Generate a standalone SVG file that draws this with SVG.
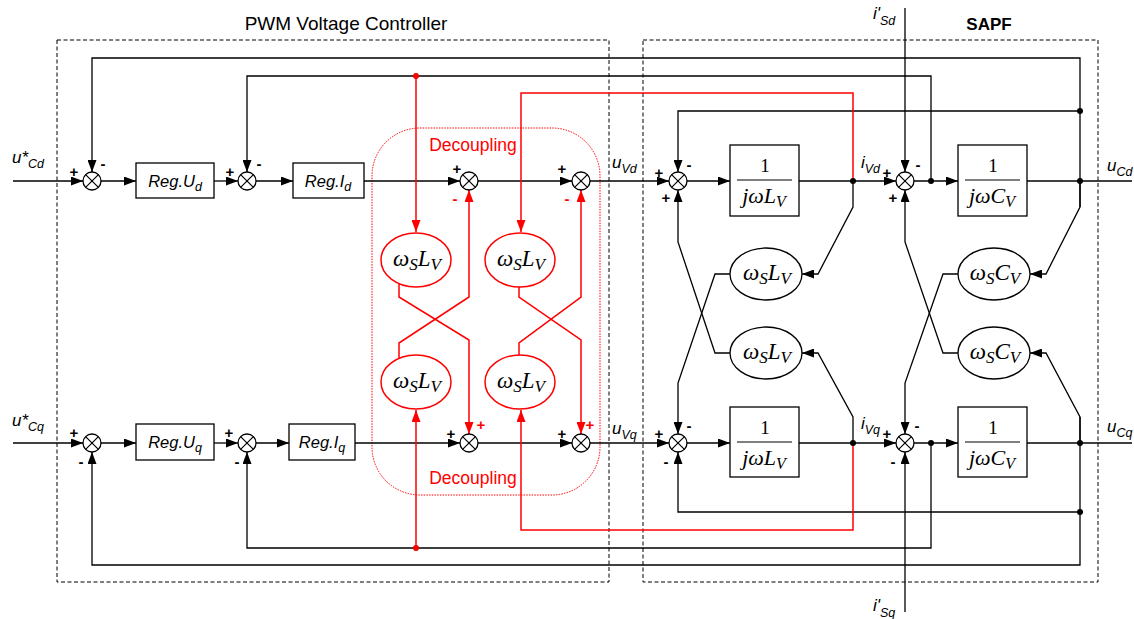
<svg xmlns="http://www.w3.org/2000/svg" xmlns:xlink="http://www.w3.org/1999/xlink" width="1134" height="619" viewBox="0 0 1134 619">
<style>
.ln{fill:none;stroke:#000;stroke-width:1.3}
.rl{fill:none;stroke:#f00;stroke-width:1.5}
.arr{marker-end:url(#ah)}
.rarr{marker-end:url(#rah)}
.box{fill:none;stroke:#000;stroke-width:1;stroke-dasharray:4,2.5}
.dec{fill:none;stroke:#f00;stroke-width:1;stroke-dasharray:1.5,1.2}
.blk{fill:#fff;stroke:#000;stroke-width:1.3}
.sumc{fill:#fff;stroke:#000;stroke-width:1.3}
.ell{fill:#fff;stroke:#000;stroke-width:1.3}
.rell{fill:#fff;stroke:#f00;stroke-width:1.5}
.t{font-family:"Liberation Sans",Arial,sans-serif;fill:#000}
.it{font-family:"Liberation Sans",Arial,sans-serif;font-style:italic;fill:#000}
.m{font-family:"Liberation Serif","Times New Roman",serif;font-style:italic;fill:#000;font-size:22px}
.e{font-family:"Liberation Serif","Times New Roman",serif;font-style:italic;fill:#000;font-size:23px}
.mr{font-family:"Liberation Serif","Times New Roman",serif;fill:#000;font-size:19px}
.sg{font-family:"Liberation Sans",Arial,sans-serif;font-size:15px;font-weight:bold;text-anchor:middle;fill:#000}
.rsg{font-family:"Liberation Sans",Arial,sans-serif;font-size:15px;font-weight:bold;text-anchor:middle;fill:#f00}
.mid{text-anchor:middle}
</style>
<defs>
<marker id="ah" markerUnits="userSpaceOnUse" markerWidth="12" markerHeight="9" refX="12" refY="4.5" orient="auto"><path d="M0,0L12,4.5L0,9z" fill="#000"/></marker>
<marker id="rah" markerUnits="userSpaceOnUse" markerWidth="12" markerHeight="9" refX="12" refY="4.5" orient="auto"><path d="M0,0L12,4.5L0,9z" fill="#f00"/></marker>
<g id="sum"><circle class="sumc" r="9"/><path d="M-6.4-6.4L6.4 6.4M6.4-6.4L-6.4 6.4" stroke="#000" stroke-width="1.2"/></g>
</defs>
<rect width="1134" height="619" fill="#fff"/>

<!-- frames -->
<g id="frames">
<rect class="box" x="57" y="40" width="552" height="542"/>
<rect class="box" x="643" y="40" width="455" height="542"/>
<rect class="dec" x="372" y="128" width="228" height="367" rx="48" ry="48"/>
<text class="t mid" x="346" y="30" font-size="19">PWM Voltage Controller</text>
<text class="t mid" x="989" y="30" font-size="17" font-weight="bold">SAPF</text>
<text class="t mid" x="473" y="151" font-size="17.5" style="fill:#f00">Decoupling</text>
<text class="t mid" x="473" y="484" font-size="17.5" style="fill:#f00">Decoupling</text>
</g>

<!-- connectors -->
<g id="connectors">
<path class="ln arr" d="M13,181H83"/>
<path class="ln arr" d="M101,181H136"/>
<path class="ln arr" d="M214,181H238"/>
<path class="ln arr" d="M256,181H293"/>
<path class="ln arr" d="M364,181H460"/>
<path class="ln arr" d="M478,181H572"/>
<path class="ln arr" d="M590,181H669"/>
<path class="ln arr" d="M687,181H730"/>
<path class="ln arr" d="M799,181H896"/>
<path class="ln arr" d="M914,181H958"/>
<path class="ln" d="M1027,181H1132"/>
<path class="ln arr" d="M1080,207V58H92V172"/>
<path class="ln arr" d="M931,181V76H247V172"/>
<path class="ln arr" d="M1080,111H678V172"/>
<path class="ln arr" d="M905,8V172"/>
<path class="ln arr" d="M853,181V207L818,274H802"/>
<path class="ln arr" d="M1080,181V207L1046,274H1030"/>
<path class="ln arr" d="M730,274H715L678,383V434"/>
<path class="ln arr" d="M730,353H715L678,242V190"/>
<path class="ln arr" d="M958,274H943L905,383V434"/>
<path class="ln arr" d="M958,353H943L905,242V190"/>
<path class="ln arr" d="M853,443V417L818,353H802"/>
<path class="ln arr" d="M1080,443V417L1046,353H1030"/>

<path class="ln arr" d="M13,443H83"/>
<path class="ln arr" d="M101,443H136"/>
<path class="ln arr" d="M214,443H238"/>
<path class="ln arr" d="M256,443H289"/>
<path class="ln arr" d="M355,443H460"/>
<path class="ln arr" d="M478,443H572"/>
<path class="ln arr" d="M590,443H669"/>
<path class="ln arr" d="M687,443H730"/>
<path class="ln arr" d="M799,443H896"/>
<path class="ln arr" d="M914,443H958"/>
<path class="ln" d="M1027,443H1132"/>
<path class="ln arr" d="M1080,417V565H92V452"/>
<path class="ln arr" d="M931,443V548H247V452"/>
<path class="ln arr" d="M1080,512H678V452"/>
<path class="ln arr" d="M905,612V452"/>

<path class="rl rarr" d="M853,181V93H521V232"/>
<path class="rl rarr" d="M416,76V232"/>
<path class="rl rarr" d="M853,443V530H521V410"/>
<path class="rl rarr" d="M416,548V410"/>
<path class="rl rarr" d="M399,284V297L469,340V434"/>
<path class="rl rarr" d="M399,358V343L469,297V190"/>
<path class="rl rarr" d="M519,287V297L581,340V434"/>
<path class="rl rarr" d="M519,355V343L581,297V190"/>

<circle cx="853" cy="181" r="3" fill="#000"/>
<circle cx="931" cy="181" r="3" fill="#000"/>
<circle cx="1080" cy="111" r="3" fill="#000"/>
<circle cx="1080" cy="181" r="3" fill="#000"/>
<circle cx="853" cy="443" r="3" fill="#000"/>
<circle cx="931" cy="443" r="3" fill="#000"/>
<circle cx="1080" cy="443" r="3" fill="#000"/>
<circle cx="1080" cy="512" r="3" fill="#000"/>
<circle cx="416" cy="76" r="3" fill="#f00"/>
<circle cx="416" cy="548" r="3" fill="#f00"/>
</g>

<!-- summing junctions -->
<g id="sum-1d"><use xlink:href="#sum" x="92" y="181"/></g>
<g id="sum-2d"><use xlink:href="#sum" x="247" y="181"/></g>
<g id="sum-dec-1d"><use xlink:href="#sum" x="469" y="181"/></g>
<g id="sum-dec-2d"><use xlink:href="#sum" x="581" y="181"/></g>
<g id="sum-sapf-1d"><use xlink:href="#sum" x="678" y="181"/></g>
<g id="sum-sapf-2d"><use xlink:href="#sum" x="905" y="181"/></g>
<g id="sum-1q"><use xlink:href="#sum" x="92" y="443"/></g>
<g id="sum-2q"><use xlink:href="#sum" x="247" y="443"/></g>
<g id="sum-dec-1q"><use xlink:href="#sum" x="469" y="443"/></g>
<g id="sum-dec-2q"><use xlink:href="#sum" x="581" y="443"/></g>
<g id="sum-sapf-1q"><use xlink:href="#sum" x="678" y="443"/></g>
<g id="sum-sapf-2q"><use xlink:href="#sum" x="905" y="443"/></g>

<!-- blocks -->
<g id="reg-ud"><rect class="blk" x="136" y="163" width="78" height="35"/><text class="it mid" x="175" y="187" font-size="16.5">Reg.U<tspan font-size="12.5" dy="4">d</tspan></text></g>
<g id="reg-id"><rect class="blk" x="293" y="163" width="71" height="35"/><text class="it mid" x="328" y="187" font-size="16.5">Reg.I<tspan font-size="12.5" dy="4">d</tspan></text></g>
<g id="reg-uq"><rect class="blk" x="136" y="424" width="78" height="36"/><text class="it mid" x="175" y="448" font-size="16.5">Reg.U<tspan font-size="12.5" dy="4">q</tspan></text></g>
<g id="reg-iq"><rect class="blk" x="289" y="424" width="66" height="36"/><text class="it mid" x="322" y="448" font-size="16.5">Reg.I<tspan font-size="12.5" dy="4">q</tspan></text></g>

<g id="lv-d"><rect class="blk" x="730" y="145" width="69" height="71"/><text class="mr mid" x="765" y="172">1</text><path d="M737,180H792" stroke="#000" stroke-width="1.2"/><text class="m mid" x="764" y="203">jωL<tspan font-size="16" dy="4">V</tspan></text></g>
<g id="cv-d"><rect class="blk" x="958" y="145" width="69" height="71"/><text class="mr mid" x="993" y="172">1</text><path d="M965,180H1020" stroke="#000" stroke-width="1.2"/><text class="m mid" x="992" y="203">jωC<tspan font-size="16" dy="4">V</tspan></text></g>
<g id="lv-q"><rect class="blk" x="730" y="407" width="69" height="70"/><text class="mr mid" x="765" y="434">1</text><path d="M737,442H792" stroke="#000" stroke-width="1.2"/><text class="m mid" x="764" y="465">jωL<tspan font-size="16" dy="4">V</tspan></text></g>
<g id="cv-q"><rect class="blk" x="958" y="407" width="69" height="70"/><text class="mr mid" x="993" y="434">1</text><path d="M965,442H1020" stroke="#000" stroke-width="1.2"/><text class="m mid" x="992" y="465">jωC<tspan font-size="16" dy="4">V</tspan></text></g>

<!-- SAPF cross-coupling ellipses -->
<g id="wl-d"><ellipse class="ell" cx="766" cy="274" rx="36" ry="26"/><text class="e mid" x="767" y="280">ω<tspan font-size="17" dy="4">S</tspan><tspan dy="-4">L</tspan><tspan font-size="17" dy="4">V</tspan></text></g>
<g id="wl-q"><ellipse class="ell" cx="766" cy="353" rx="36" ry="26"/><text class="e mid" x="767" y="359">ω<tspan font-size="17" dy="4">S</tspan><tspan dy="-4">L</tspan><tspan font-size="17" dy="4">V</tspan></text></g>
<g id="wc-d"><ellipse class="ell" cx="994" cy="274" rx="36" ry="26"/><text class="e mid" x="995" y="280">ω<tspan font-size="17" dy="4">S</tspan><tspan dy="-4">C</tspan><tspan font-size="17" dy="4">V</tspan></text></g>
<g id="wc-q"><ellipse class="ell" cx="994" cy="353" rx="36" ry="26"/><text class="e mid" x="995" y="359">ω<tspan font-size="17" dy="4">S</tspan><tspan dy="-4">C</tspan><tspan font-size="17" dy="4">V</tspan></text></g>

<!-- decoupling ellipses -->
<g id="dec-d1"><ellipse class="rell" cx="416" cy="260" rx="35" ry="27"/><text class="e mid" x="417" y="266">ω<tspan font-size="17" dy="4">S</tspan><tspan dy="-4">L</tspan><tspan font-size="17" dy="4">V</tspan></text></g>
<g id="dec-d2"><ellipse class="rell" cx="520" cy="260" rx="35" ry="27"/><text class="e mid" x="521" y="266">ω<tspan font-size="17" dy="4">S</tspan><tspan dy="-4">L</tspan><tspan font-size="17" dy="4">V</tspan></text></g>
<g id="dec-q1"><ellipse class="rell" cx="416" cy="382" rx="35" ry="27"/><text class="e mid" x="417" y="388">ω<tspan font-size="17" dy="4">S</tspan><tspan dy="-4">L</tspan><tspan font-size="17" dy="4">V</tspan></text></g>
<g id="dec-q2"><ellipse class="rell" cx="520" cy="382" rx="35" ry="27"/><text class="e mid" x="521" y="388">ω<tspan font-size="17" dy="4">S</tspan><tspan dy="-4">L</tspan><tspan font-size="17" dy="4">V</tspan></text></g>

<!-- signal labels -->
<g id="labels">
<text class="it" x="12" y="163" font-size="17">u<tspan>*</tspan><tspan font-size="12.5" dy="5">Cd</tspan></text>
<text class="it" x="12" y="426" font-size="17">u<tspan>*</tspan><tspan font-size="12.5" dy="5">Cq</tspan></text>
<text class="it" x="612" y="168" font-size="17">u<tspan font-size="12.5" dy="5">Vd</tspan></text>
<text class="it" x="612" y="434" font-size="17">u<tspan font-size="12.5" dy="5">Vq</tspan></text>
<text class="it" x="861" y="168" font-size="17">i<tspan font-size="12.5" dy="5">Vd</tspan></text>
<text class="it" x="861" y="429" font-size="17">i<tspan font-size="12.5" dy="5">Vq</tspan></text>
<text class="it" x="873" y="19" font-size="17">i'<tspan font-size="12.5" dy="6">Sd</tspan></text>
<text class="it" x="873" y="611" font-size="17">i'<tspan font-size="12.5" dy="6">Sq</tspan></text>
<text class="it" x="1107" y="171" font-size="17">u<tspan font-size="12.5" dy="5">Cd</tspan></text>
<text class="it" x="1107" y="432" font-size="17">u<tspan font-size="12.5" dy="5">Cq</tspan></text>
</g>

<!-- signs -->
<g id="signs">
<text class="sg" x="74" y="177">+</text><text class="sg" x="103" y="169">-</text>
<text class="sg" x="230" y="177">+</text><text class="sg" x="259" y="169">-</text>
<text class="sg" x="457" y="174">+</text><text class="rsg" x="455" y="204">-</text>
<text class="sg" x="562" y="174">+</text><text class="rsg" x="567" y="204">-</text>
<text class="sg" x="659" y="178">+</text><text class="sg" x="689" y="170">-</text><text class="sg" x="666" y="203">+</text>
<text class="sg" x="887" y="178">+</text><text class="sg" x="918" y="170">-</text><text class="sg" x="893" y="203">+</text>

<text class="sg" x="74" y="438">+</text><text class="sg" x="81" y="467">-</text>
<text class="sg" x="229" y="438">+</text><text class="sg" x="237" y="467">-</text>
<text class="sg" x="451" y="439">+</text><text class="rsg" x="481" y="430">+</text>
<text class="sg" x="562" y="439">+</text><text class="rsg" x="590" y="430">+</text>
<text class="sg" x="659" y="439">+</text><text class="sg" x="689" y="431">-</text><text class="sg" x="666" y="467">-</text>
<text class="sg" x="887" y="439">+</text><text class="sg" x="917" y="431">-</text><text class="sg" x="893" y="467">-</text>
</g>
</svg>
